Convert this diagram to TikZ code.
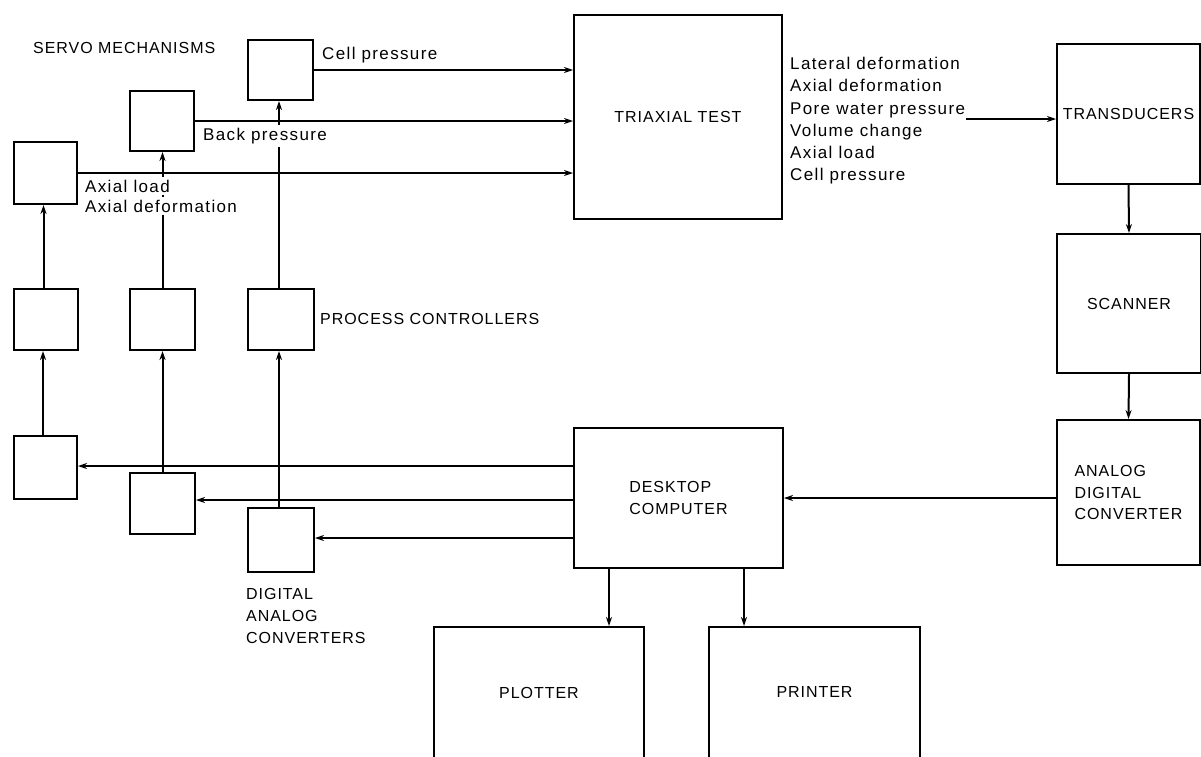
\documentclass[tikz,border=0pt]{standalone}
\usepackage{fontspec}
\setmainfont{Liberation Sans}
\newfontfamily\capsf[LetterSpace=6]{Liberation Sans}
\newfontfamily\lowf[LetterSpace=8]{Liberation Sans}
\usetikzlibrary{arrows.meta,calc}
\begin{document}
\begin{tikzpicture}[x=1pt,y=-1pt,
  blk/.style={draw,line width=2pt,inner sep=0pt,anchor=north west},
  con/.style={line width=1.2pt},
  vcon/.style={line width=2pt},
  arr/.style={-{Stealth[length=9pt,width=6pt]}},
  lab/.style={font=\lowf\fontsize{17}{22}\selectfont,inner sep=0pt,anchor=base west},
  captxt/.style={font=\capsf\fontsize{16}{21.5}\selectfont,inner sep=0pt},
  capl/.style={captxt,anchor=base west},
  wlab/.style={lab,fill=white,inner xsep=2pt,inner ysep=3pt}
]
\useasboundingbox (0,0) rectangle (1201,756);
\clip (0,0) rectangle (1201,756);

% servo mechanisms
\node[blk,minimum width=63pt,minimum height=62pt] (s1) at (13,141) {};
\node[blk,minimum width=64pt,minimum height=60pt] (s2) at (129,90) {};
\node[blk,minimum width=65pt,minimum height=60pt] (s3) at (247,39) {};
% process controllers
\node[blk,minimum width=64pt,minimum height=61pt] (p1) at (13,288) {};
\node[blk,minimum width=65pt,minimum height=61pt] (p2) at (129,288) {};
\node[blk,minimum width=66pt,minimum height=61pt] (p3) at (247,288) {};
% digital analog converters
\node[blk,minimum width=63pt,minimum height=63pt] (d1) at (13,435) {};
\node[blk,minimum width=65pt,minimum height=61pt] (d2) at (129,472) {};
\node[blk,minimum width=66pt,minimum height=64pt] (d3) at (247,507) {};

% main blocks
\node[blk,captxt,minimum width=208pt,minimum height=204pt] (tri) at (573,14) {TRIAXIAL TEST};
\node[blk,captxt,minimum width=143pt,minimum height=140pt] (trans) at (1056,43) {TRANSDUCERS};
\node[blk,captxt,minimum width=144pt,minimum height=139pt] (scan) at (1056,233) {SCANNER};
\node[blk,captxt,align=left,minimum width=143pt,minimum height=145pt] (adc) at (1056,419) {ANALOG\\DIGITAL\\CONVERTER};
\node[blk,captxt,align=left,minimum width=209pt,minimum height=140pt] (desk) at (573,427) {DESKTOP\\COMPUTER};
\node[blk,minimum width=210pt,minimum height=160pt] (plot) at (433,626) {};
\node[blk,minimum width=211pt,minimum height=160pt] (print) at (708,626) {};
\node[captxt,anchor=base] (plotl) at ($(plot.north)+(0,72)$) {PLOTTER};
\node[captxt,anchor=base] (printl) at ($(print.north)+(0,71)$) {PRINTER};

% servo -> triaxial
\draw[con,arr] (s3.east) -- (s3.east -| tri.west);
\draw[con,arr] (s2.east) -- (s2.east -| tri.west);
\draw[con,arr] (s1.east) -- (s1.east -| tri.west);

% vertical chains
\draw[vcon,arr] ([xshift=-2.5pt]d1.north) -- ([xshift=-2.5pt]d1.north |- p1.south);
\draw[vcon,arr] ([xshift=-2.5pt]p1.north) -- ([xshift=-2.5pt]p1.north |- s1.south);
\draw[vcon,arr] (d2.north) -- (d2.north |- p2.south);
\draw[vcon,arr] (p2.north) -- (p2.north |- s2.south);
\draw[vcon,arr] ([xshift=-2pt]d3.north) -- ([xshift=-2pt]d3.north |- p3.south);
\draw[vcon,arr] ([xshift=-2pt]p3.north) -- ([xshift=-2pt]p3.north |- s3.south);

% computer -> DA converters
\draw[con,arr] ([yshift=1.5pt]d1.east -| desk.west) -- ([yshift=1.5pt]d1.east);
\draw[con,arr] ([yshift=3.5pt]d2.east -| desk.west) -- ([yshift=3.5pt]d2.east);
\draw[con,arr] ([yshift=2pt]d3.east -| desk.west) -- ([yshift=2pt]d3.east);

% right chain
\draw[vcon,arr] (trans.south) -- (scan.north);
\draw[vcon,arr] (scan.south) -- (adc.north);
\draw[con,arr] ([yshift=-5.5pt]adc.west) -- ([yshift=-5.5pt]adc.west -| desk.east);
\draw[vcon,arr] ([xshift=36pt]desk.south west) -- ([xshift=36pt]desk.south west |- plot.north);
\draw[vcon,arr] ([xshift=36pt]print.north west |- desk.south) -- ([xshift=36pt]print.north west);

% labels
\node[capl] (servo) at (33,53) {SERVO MECHANISMS};
\node[lab] (cp) at (322,59) {Cell pressure};
\node[wlab] (bp) at (201,140) {Back pressure};
\node[wlab] (al) at (83,192) {Axial load};
\node[wlab] (ad) at (83,212) {Axial deformation};
\node[capl] (pc) at (320,324) {PROCESS CONTROLLERS};
\node[capl] (dac1) at (246,599) {DIGITAL};
\node[capl] (dac2) at (246,621) {ANALOG};
\node[capl] (dac3) at (246,643) {CONVERTERS};

\node[lab] (l1) at (790,69) {Lateral deformation};
\node[lab] (l2) at (790,91) {Axial deformation};
\node[lab] (l3) at (790,114) {Pore water pressure};
\node[lab] (l4) at (790,136) {Volume change};
\node[lab] (l5) at (790,158) {Axial load};
\node[lab] (l6) at (790,180) {Cell pressure};
\coordinate (pwe) at ($(l3.base east)+(1,5)$);
\draw[con,arr] (pwe) -- (pwe -| trans.west);
\end{tikzpicture}
\end{document}
